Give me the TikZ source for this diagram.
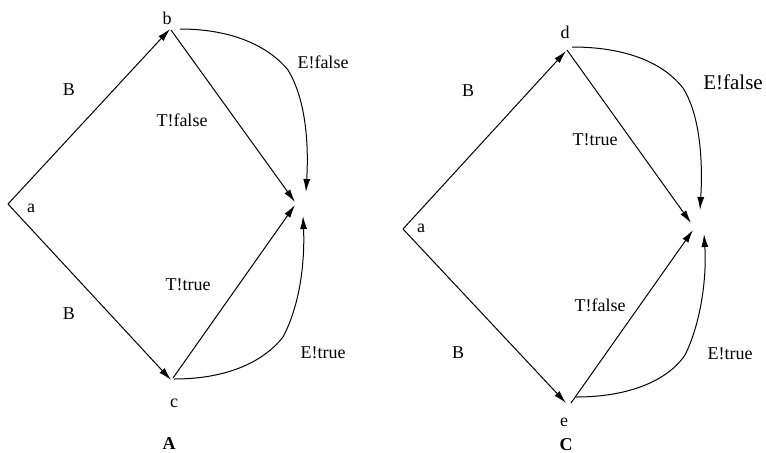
\documentclass[tikz,border=0pt]{standalone}
\usepackage{fontspec}
\setmainfont{Liberation Serif}
\usetikzlibrary{arrows.meta}
\begin{document}
\begin{tikzpicture}[x=0.5pt,y=-0.5pt,
  edge/.style={line width=0.5pt,-{Latex[length=6.5pt,width=3.5pt]}},
  lbl/.style={font=\fontsize{9}{10}\selectfont,inner sep=0pt},
  biglbl/.style={font=\fontsize{10.5}{12}\selectfont,inner sep=0pt},
  ttl/.style={font=\fontsize{9}{10}\selectfont\bfseries,inner sep=0pt,anchor=north}]
\useasboundingbox (0,0) rectangle (766,452);
% ---------- diagram A ----------
\coordinate (a1) at (8,204);
\coordinate (b) at (170,29);
\coordinate (bs) at (171,30);
\coordinate (be) at (180,29);
\coordinate (c) at (171,380);
\coordinate (cs) at (173,378);
\coordinate (ce) at (174,379);
\coordinate (s1) at (295,202);
\coordinate (s2) at (295,205);
\coordinate (s3) at (306,192);
\coordinate (s4) at (303,216);
\draw[edge] (a1) -- (b);
\draw[edge] (a1) -- (c);
\draw[edge] (bs) -- (s1);
\draw[edge] (cs) -- (s2);
\draw[edge] (be) .. controls (235,29) and (270,48) .. (288,70)
  .. controls (305,98) and (309,140) .. (s3);
\draw[edge] (ce) .. controls (230,379) and (265,360) .. (283,337)
  .. controls (300,305) and (305,262) .. (s4);
\node[lbl] (la1) at (31,208) {a};
\node[lbl] (lb) at (167,18) {b};
\node[lbl] (lc) at (174,403) {c};
\node[lbl] (B1) at (69,90) {B};
\node[lbl] (B2) at (69,314) {B};
\node[lbl] (tf1) at (182,120) {T!false};
\node[lbl] (tt1) at (188,285) {T!true};
\node[lbl] (ef1) at (323,62) {E!false};
\node[lbl] (et1) at (323,353) {E!true};
\node[ttl] (A) at (169,437) {A};
% ---------- diagram C ----------
\coordinate (a2) at (403,229);
\coordinate (d) at (566,51);
\coordinate (ds) at (567,50);
\coordinate (de) at (572,47);
\coordinate (e) at (566,403);
\coordinate (es) at (571,403);
\coordinate (ee) at (576,397);
\coordinate (t1) at (691,223);
\coordinate (t2) at (693,230);
\coordinate (t3) at (700,210);
\coordinate (t4) at (704,234);
\draw[edge] (a2) -- (d);
\draw[edge] (a2) -- (e);
\draw[edge] (ds) -- (t1);
\draw[edge] (es) -- (t2);
\draw[edge] (de) .. controls (630,47) and (665,65) .. (683,88)
  .. controls (700,115) and (703,160) .. (t3);
\draw[edge] (ee) .. controls (630,397) and (668,380) .. (685,355)
  .. controls (700,325) and (707,280) .. (t4);
\node[lbl] (la2) at (421,228) {a};
\node[lbl] (ld) at (565,32) {d};
\node[lbl] (le) at (564,422) {e};
\node[lbl] (B3) at (468,91) {B};
\node[lbl] (B4) at (458,353) {B};
\node[lbl] (tt2) at (595,140) {T!true};
\node[lbl] (tf2) at (600,305) {T!false};
\node[biglbl] (ef2) at (733,82) {E!false};
\node[lbl] (et2) at (730,354) {E!true};
\node[ttl] (C) at (566,438) {C};
\end{tikzpicture}
\end{document}
